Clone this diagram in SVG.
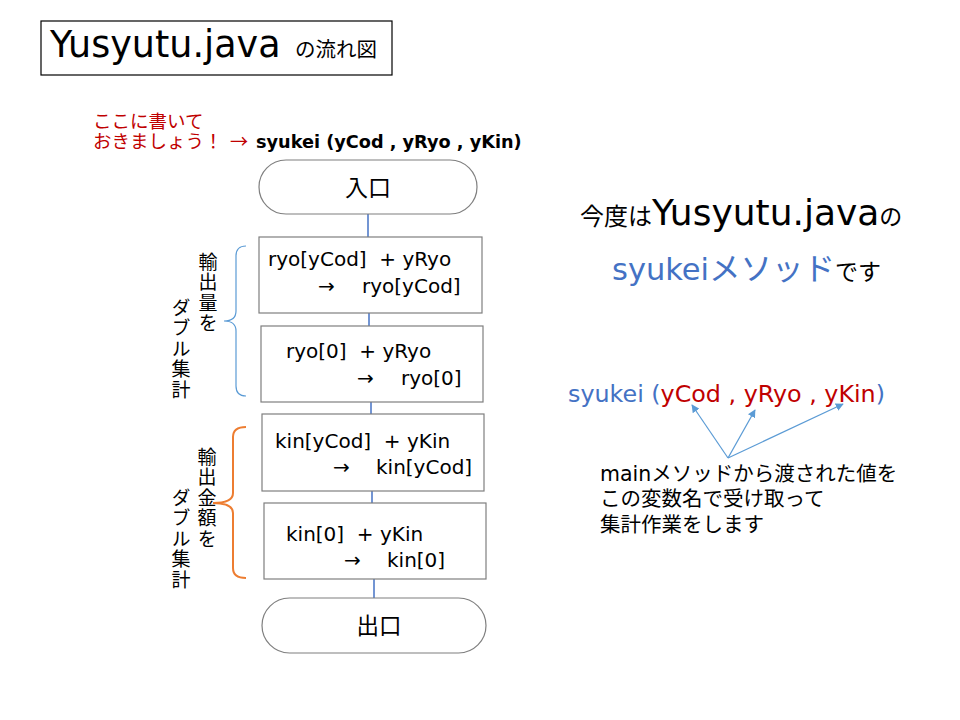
<svg xmlns="http://www.w3.org/2000/svg" width="960" height="720" viewBox="0 0 960 720">
<defs>
<style>
text{font-family:'DejaVu Sans','Noto Sans CJK JP',sans-serif;fill:#000}
.jp{font-family:'Noto Sans CJK JP',sans-serif}
.node{fill:#fff;stroke:#7f7f7f;stroke-width:1.2}
.box{font-size:20px}
.conn{stroke:#4472c4;stroke-width:1.5;fill:none}
.vt{font-family:'Noto Sans CJK JP',sans-serif;font-size:19px;writing-mode:vertical-rl;letter-spacing:1.5px}
.red{fill:#c00000}
.blue{fill:#4472c4}
.arr{stroke:#5b9bd5;stroke-width:1.2;fill:none;marker-end:url(#ah)}
</style>
<marker id="ah" viewBox="0 0 10 10" refX="9" refY="5" markerWidth="8" markerHeight="8" orient="auto" markerUnits="userSpaceOnUse">
<path d="M0,0 L10,5 L0,10 z" fill="#5b9bd5"/>
</marker>
</defs>
<rect width="960" height="720" fill="#fff"/>

<g id="title">
<rect x="41" y="21" width="351" height="54" fill="#fff" stroke="#000" stroke-width="1.2"/>
<text x="50" y="57" font-size="36.5">Yusyutu.java</text>
<text x="295" y="57" class="jp" font-size="20.5">の流れ図</text>
</g>

<g id="note">
<text x="93" y="128" class="jp red" font-size="18.5">ここに書いて</text>
<text x="93" y="148" class="jp red" font-size="18.5">おきましょう！</text>
<text x="230" y="148" class="jp red" font-size="18">→</text>
<text x="256" y="148" font-size="17.7" font-weight="bold">syukei (yCod , yRyo , yKin)</text>
</g>

<g id="connectors">
<line class="conn" x1="368" y1="214" x2="368" y2="237"/>
<line class="conn" x1="369" y1="313" x2="369" y2="326"/>
<line class="conn" x1="371" y1="402" x2="371" y2="414"/>
<line class="conn" x1="372" y1="491" x2="372" y2="503"/>
<line class="conn" x1="374" y1="579" x2="374" y2="598"/>
</g>

<g id="entry">
<rect class="node" x="259" y="160" width="218" height="54" rx="27" ry="27"/>
<text x="368" y="196" class="jp" font-size="23" text-anchor="middle">入口</text>
</g>

<g id="box1">
<rect class="node" x="259" y="237" width="223" height="76"/>
<text class="box" x="268" y="266" xml:space="preserve">ryo[yCod]  + yRyo</text>
<text class="box" x="318" y="293">→</text>
<text class="box" x="362" y="293">ryo[yCod]</text>
</g>

<g id="box2">
<rect class="node" x="261" y="326" width="222" height="76"/>
<text class="box" x="286" y="358" xml:space="preserve">ryo[0]  + yRyo</text>
<text class="box" x="357" y="385">→</text>
<text class="box" x="401" y="385">ryo[0]</text>
</g>

<g id="box3">
<rect class="node" x="262" y="414" width="222" height="77"/>
<text class="box" x="275" y="448" xml:space="preserve">kin[yCod]  + yKin</text>
<text class="box" x="333" y="474">→</text>
<text class="box" x="376" y="474">kin[yCod]</text>
</g>

<g id="box4">
<rect class="node" x="264" y="503" width="222" height="76"/>
<text class="box" x="286" y="541" xml:space="preserve">kin[0]  + yKin</text>
<text class="box" x="344" y="567">→</text>
<text class="box" x="387" y="567">kin[0]</text>
</g>

<g id="exit">
<rect class="node" x="262" y="598" width="224" height="55" rx="27.5" ry="27.5"/>
<text x="379" y="634" class="jp" font-size="22.5" text-anchor="middle">出口</text>
</g>

<g id="brace-ryo">
<path d="M246,246 Q236,246 236,256 L236,311 Q236,321 224,321 Q236,321 236,331 L236,386 Q236,396 246,396" fill="none" stroke="#5b9bd5" stroke-width="1.2"/>
<text class="vt" x="208" y="252">輸出量を</text>
<text class="vt" x="181" y="298">ダブル集計</text>
</g>

<g id="brace-kin">
<path d="M246,427 Q233,427 233,437 L233,493 Q233,503 213,503 Q233,503 233,513 L233,568 Q233,578 246,578" fill="none" stroke="#ed7d31" stroke-width="2"/>
<text class="vt" x="207" y="447">輸出金額を</text>
<text class="vt" x="181" y="488">ダブル集計</text>
</g>

<g id="headline">
<text x="580" y="225"><tspan class="jp" font-size="24">今度は</tspan><tspan font-size="36">Yusyutu.java</tspan><tspan class="jp" font-size="23">の</tspan></text>
<text x="612" y="280"><tspan class="blue" font-size="30.5">syukei</tspan><tspan class="jp blue" font-size="31.5">メソッド</tspan><tspan class="jp" font-size="23">です</tspan></text>
</g>

<g id="signature">
<text x="568" y="402" font-size="23.8" xml:space="preserve"><tspan class="blue">syukei (</tspan><tspan class="red">yCod , yRyo , yKin</tspan><tspan class="blue">)</tspan></text>
</g>

<g id="pointers">
<line class="arr" x1="728" y1="458" x2="692" y2="405"/>
<line class="arr" x1="728" y1="458" x2="755" y2="410"/>
<line class="arr" x1="728" y1="458" x2="843" y2="404"/>
</g>

<g id="explain">
<text x="600" y="481" font-size="20.5"><tspan>main</tspan><tspan class="jp">メソッドから渡された値を</tspan></text>
<text x="600" y="506" class="jp" font-size="20.5">この変数名で受け取って</text>
<text x="600" y="532" class="jp" font-size="20.5">集計作業をします</text>
</g>
</svg>
